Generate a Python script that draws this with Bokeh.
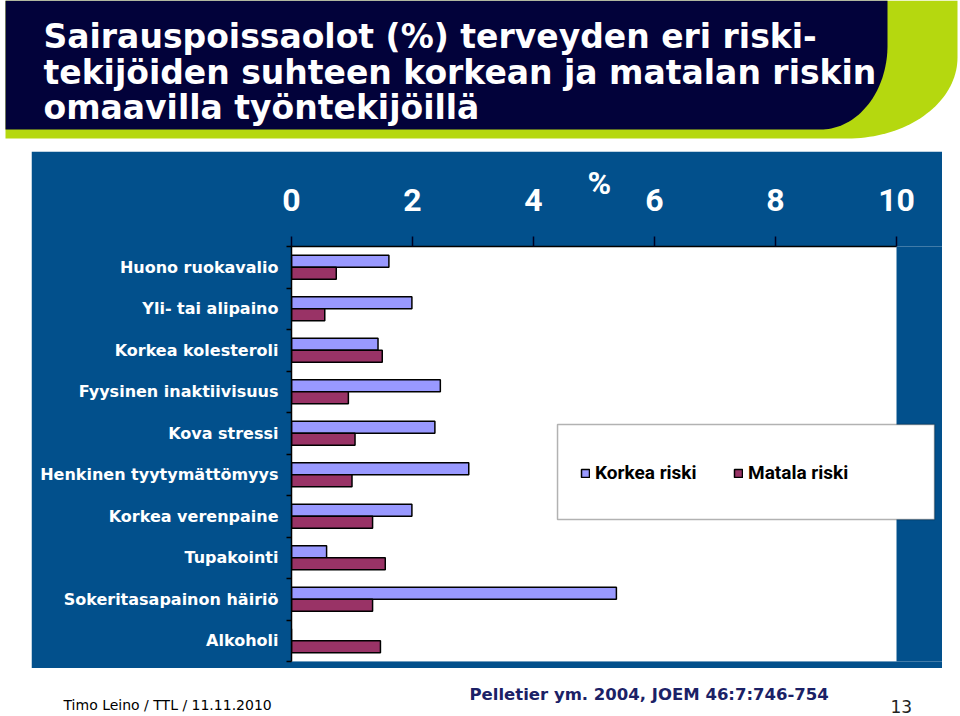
import numpy as np
from bokeh.plotting import figure
from bokeh.models import (Range1d, FixedTicker, BoxAnnotation, Legend, LegendItem, Title,
                          CustomJSTickFormatter, Spacer, ColumnDataSource)
from bokeh.layouts import column, row
from bokeh.core.properties import value
from bokeh.embed import file_html
from bokeh.resources import INLINE

# ---------------- data ----------------
categories = ["Huono ruokavalio", "Yli- tai alipaino", "Korkea kolesteroli",
              "Fyysinen inaktiivisuus", "Kova stressi", "Henkinen tyytymättömyys",
              "Korkea verenpaine", "Tupakointi", "Sokeritasapainon häiriö", "Alkoholi"]
korkea = [1.61, 1.99, 1.43, 2.46, 2.37, 2.93, 1.99, 0.58, 5.37, 0.0]
matala = [0.74, 0.55, 1.50, 0.94, 1.05, 1.00, 1.34, 1.55, 1.34, 1.47]
x_ticks = [0, 2, 4, 6, 8, 10]
series_names = ["Korkea riski", "Matala riski"]
axis_title = "%"
title_lines = ["Sairauspoissaolot (%) terveyden eri riski-",
               "tekijöiden suhteen korkean ja matalan riskin",
               "omaavilla työntekijöillä"]
footer_left = "Timo Leino / TTL / 11.11.2010"
footer_ref = "Pelletier ym. 2004, JOEM 46:7:746-754"
page_no = "13"

BLUE = "#02508C"
NAVY = "#02023A"
LIME = "#B5D80F"
C_K = "#9999FF"
C_M = "#993366"
NARROW = "Roboto"

# ---------------- title band ----------------
t = figure(width=960, height=151, x_range=Range1d(0, 960), y_range=Range1d(151, 0),
           output_backend="svg", toolbar_location=None, title=None,
           x_axis_location=None, y_axis_location=None, min_border=0,
           outline_line_color=None, background_fill_color="white", border_fill_color="white")
t.grid.visible = False
th = np.linspace(0, np.pi / 2, 40)
lx = [5, 957] + list(847 + 110 * np.cos(th)) + [5]
ly = [0, 0] + list(57 + 81 * np.sin(th)) + [138]
t.patch(lx, ly, fill_color=LIME, line_color=None)
nx = [5, 887] + list(820 + 67 * np.cos(th)) + [5]
ny = [0, 0] + list(45 + 84 * np.sin(th)) + [129]
t.patch(nx, ny, fill_color=NAVY, line_color=None)
t.text(x=[43, 43, 43], y=[36, 71.5, 107], text=title_lines, text_color="white",
       text_font=value("DejaVu Sans"), text_font_style="bold", text_font_size="33px",
       text_baseline="alphabetic")

# ---------------- main chart ----------------
n = len(categories)
idx = np.arange(n)
src = ColumnDataSource(dict(cat=categories, yk=idx + 0.5 - 0.145, ym=idx + 0.5 + 0.145,
                            korkea=korkea, matala=matala))

pct_title = Title(text=axis_title, align="left", offset=296, standoff=-32,
                  text_color="white", text_font=NARROW, text_font_style="bold",
                  text_font_size="32px")

p = figure(width=911, height=517, x_range=Range1d(0, 10.76), y_range=Range1d(n, 0),
           x_axis_location="above", output_backend="svg", toolbar_location=None,
           title=pct_title,
           min_border_left=260, min_border_right=0, min_border_top=95, min_border_bottom=7,
           background_fill_color=BLUE, border_fill_color=BLUE, outline_line_color=None)
p.grid.visible = False
p.add_layout(BoxAnnotation(left=0, right=10, fill_color="white", fill_alpha=1,
                           line_color=None, level="underlay"))

rk = p.hbar(y="yk", left=0, right="korkea", height=0.29, source=src,
            fill_color=C_K, line_color="black", line_width=1.5)
rm = p.hbar(y="ym", left=0, right="matala", height=0.29, source=src,
            fill_color=C_M, line_color="black", line_width=1.5)

xa = p.xaxis[0]
xa.ticker = FixedTicker(ticks=x_ticks)
xa.bounds = (0, 10)
xa.axis_line_color = "black"
xa.axis_line_width = 1.5
xa.major_tick_out = 10
xa.major_tick_in = 0
xa.major_tick_line_color = "#000022"
xa.major_tick_line_width = 1.5
xa.minor_tick_line_color = None
xa.major_label_standoff = 26
xa.major_label_text_color = "white"
xa.major_label_text_font = NARROW
xa.major_label_text_font_style = "bold"
xa.major_label_text_font_size = "32px"

ya = p.yaxis[0]
ya.ticker = FixedTicker(ticks=[float(i) + 0.5 for i in idx],
                        minor_ticks=[float(i) for i in range(n + 1)])
ya.formatter = CustomJSTickFormatter(args=dict(cats=categories),
                                     code="return cats[Math.floor(tick)] || '';")
ya.bounds = (0, n)
ya.axis_line_color = "black"
ya.axis_line_width = 1.5
ya.major_tick_in = 0
ya.major_tick_out = 0
ya.major_tick_line_color = None
ya.minor_tick_in = 0
ya.minor_tick_out = 5
ya.minor_tick_line_color = "black"
ya.minor_tick_line_width = 1.5
ya.major_label_standoff = 8
ya.major_label_text_color = "white"
ya.major_label_text_font = "DejaVu Sans"
ya.major_label_text_font_style = "bold"
ya.major_label_text_font_size = "16px"

p.add_layout(BoxAnnotation(left=4.397, right=10.628, top=4.289, bottom=6.578,
                           fill_color="white", fill_alpha=1, line_color="black",
                           line_width=1.5))
legend = Legend(items=[LegendItem(label=series_names[0], renderers=[rk]),
                       LegendItem(label=series_names[1], renderers=[rm])],
                location=(289, 177), orientation="horizontal", padding=0, margin=0,
                spacing=28, glyph_width=10, glyph_height=10, label_standoff=5,
                label_width=110, label_text_font=NARROW, label_text_font_style="bold",
                label_text_font_size="19px", label_text_color="black",
                border_line_color=None, background_fill_alpha=0)
p.add_layout(legend)

# ---------------- footer ----------------
f = figure(width=960, height=48, x_range=Range1d(0, 960), y_range=Range1d(716, 668),
           output_backend="svg", toolbar_location=None, title=None,
           x_axis_location=None, y_axis_location=None, min_border=0,
           outline_line_color=None, background_fill_color="white", border_fill_color="white")
f.grid.visible = False
f.text(x=[63], y=[704], text=[footer_left], text_color="black",
       text_font=value("DejaVu Sans"), text_font_size="14px", text_baseline="alphabetic")
f.text(x=[469], y=[694], text=[footer_ref], text_color="#1B2166",
       text_font=value("DejaVu Sans"), text_font_style="bold", text_font_size="16.5px",
       text_baseline="alphabetic")
f.text(x=[890], y=[706], text=[page_no], text_color="#222222",
       text_font=value("DejaVu Sans"), text_font_size="17px", text_baseline="alphabetic")

layout = column(t, row(Spacer(width=31, height=517), p), f)
open("out.html", "w").write(file_html(layout, INLINE))
